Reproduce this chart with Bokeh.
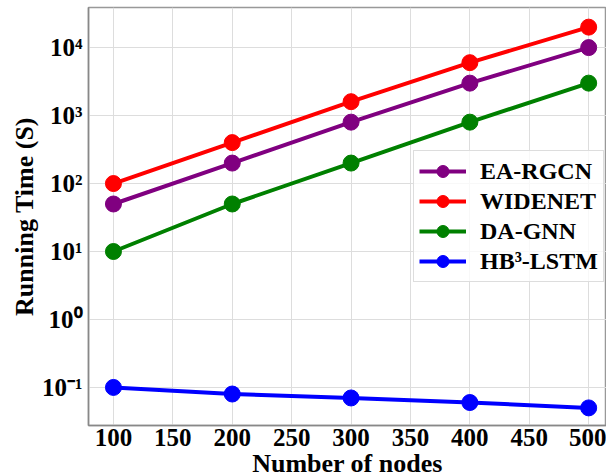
from bokeh.plotting import figure
from bokeh.models import Range1d, FixedTicker, Legend
from bokeh.embed import file_html
from bokeh.resources import INLINE

nodes = [100, 200, 300, 400, 500]
ea_rgcn = [50, 200, 800, 3000, 10000]
widenet = [100, 400, 1600, 6000, 20000]
da_gnn = [10, 50, 200, 800, 3000]
hb3_lstm = [0.1, 0.08, 0.07, 0.06, 0.05]

x_ticks = [100, 150, 200, 250, 300, 350, 400, 450, 500]
y_ticks = [0.1, 1, 10, 100, 1000, 10000]
y_tick_labels = ["10⁻¹", "10⁰", "10¹", "10²", "10³", "10⁴"]

series = [
    ("EA-RGCN", ea_rgcn, "purple"),
    ("WIDENET", widenet, "red"),
    ("DA-GNN", da_gnn, "green"),
    ("HB³-LSTM", hb3_lstm, "blue"),
]

FONT = "Liberation Serif"

p = figure(frame_width=518, frame_height=418, y_axis_type="log",
           output_backend="svg", toolbar_location=None,
           x_range=Range1d(79, 515), y_range=Range1d(10**-1.56, 10**4.59),
           min_border_left=88, min_border_right=0, min_border_top=7, min_border_bottom=0)

items = []
for name, vals, color in series:
    r1 = p.line(nodes, vals, line_color=color, line_width=4)
    r2 = p.scatter(nodes, vals, size=16, fill_color=color, line_color=color)
    items.append((name, [r1, r2]))

legend = Legend(items=items, location=(325, 143))
legend.label_text_font = FONT
legend.label_text_font_style = "bold"
legend.label_text_font_size = "24px"
legend.label_text_color = "black"
legend.glyph_width = 47
legend.glyph_height = 30
legend.label_height = 30
legend.label_standoff = 14
legend.spacing = 0
legend.padding = 5
legend.margin = 0
legend.border_line_color = "#dddddd"
legend.border_line_alpha = 1
legend.background_fill_alpha = 0.8
p.add_layout(legend, "center")

p.xaxis.ticker = FixedTicker(ticks=x_ticks)
p.yaxis.ticker = FixedTicker(ticks=y_ticks, minor_ticks=[])
p.yaxis.major_label_overrides = {t: l for t, l in zip(y_ticks, y_tick_labels)}

for ax in (p.xaxis, p.yaxis):
    ax.major_label_text_font = FONT
    ax.major_label_text_font_style = "bold"
    ax.major_label_text_font_size = "25px"
    ax.major_label_text_color = "black"
    ax.axis_label_text_font = FONT
    ax.axis_label_text_font_style = "bold"
    ax.axis_label_text_font_size = "26px"
    ax.axis_label_text_color = "black"
    ax.major_tick_line_color = None
    ax.minor_tick_line_color = None
    ax.major_tick_out = 0
    ax.major_tick_in = 0
    ax.minor_tick_out = 0
    ax.minor_tick_in = 0
    ax.axis_line_color = "#888888"
    ax.axis_line_width = 1.5
    ax.axis_label_standoff = 0

p.xaxis.major_label_standoff = 3
p.yaxis.major_label_standoff = 6

p.xaxis.axis_label = "Number of nodes"
p.yaxis.axis_label = "Running Time (S)"

p.xgrid.grid_line_color = "#dddddd"
p.ygrid.grid_line_color = "#dddddd"
p.ygrid.ticker = FixedTicker(ticks=y_ticks, minor_ticks=[])
p.outline_line_color = "#999999"
p.outline_line_width = 1.5

open("out.html", "w").write(file_html(p, INLINE))
